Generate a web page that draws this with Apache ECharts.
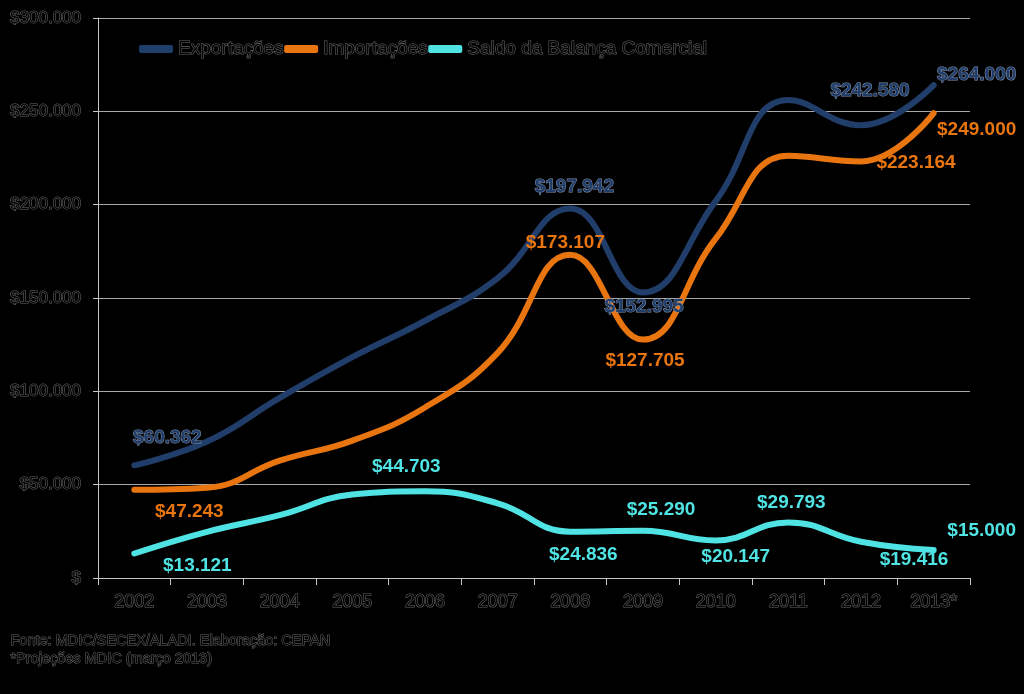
<!DOCTYPE html>
<html>
<head>
<meta charset="utf-8">
<script src="https://cdn.jsdelivr.net/npm/echarts@6/dist/echarts.min.js"></script>
<style>
html,body{margin:0;padding:0;background:#000;}
#chart{width:1024px;height:694px;}
</style>
</head>
<body>
<div id="chart"></div>
<script>
// ---- data ----
const years = ['2002','2003','2004','2005','2006','2007','2008','2009','2010','2011','2012','2013*'];
const exportacoes = [60362, 73084, 96475, 118308, 137807, 160649, 197942, 152995, 201915, 256040, 242580, 264000];
const importacoes = [47243, 48326, 62836, 73600, 91351, 120617, 173107, 127705, 181768, 226247, 223164, 249000];
const saldo = [13121, 24758, 33641, 44703, 46457, 40032, 24836, 25290, 20147, 29793, 19416, 15000];
const seriesNames = ['Exportações', 'Importações', 'Saldo da Balança Comercial'];
const yTicks = [0, 50000, 100000, 150000, 200000, 250000, 300000];
const footerLines = ['Fonte: MDIC/SECEX/ALADI. Elaboração: CEPAN', '*Projeções MDIC (março 2013)'];

// ---- label placement (style only: pixel offsets from each point) ----
const expLabelOffsets = {0:[33,-28], 6:[4,-22], 7:[1,14], 10:[9,-34], 11:[43,-10]};
const impLabelOffsets = {0:[55,22], 6:[-5,-12], 7:[2,21], 10:[55,1], 11:[43,17]};
const salLabelOffsets = {0:[63,12], 3:[54,-28], 6:[13,23], 7:[18,-21], 8:[20,16], 9:[3,-20], 10:[53,18], 11:[48,-19]};

const colors = ['#213E6B', '#E8750F', '#4FE3E3'];

function fmt(v){
  return '$' + String(v).replace(/\B(?=(\d{3})+(?!\d))/g, '.');
}
function build(values, offsets){
  return values.map((v, i) => {
    const o = offsets[i];
    if (!o) return {value: v, label: {show: false}};
    return {value: v, label: {show: true, offset: o}};
  });
}
const darkText = {color: '#030303', textBorderColor: '#666666', textBorderWidth: 1.1, fontFamily: 'Liberation Sans, Arial, sans-serif'};

function lineSeries(name, values, offsets, color, labelExtra){
  return {
    name: name,
    type: 'line',
    smooth: 0.45,
    symbol: 'circle',
    symbolSize: 2,
    showSymbol: true,
    showAllSymbol: true,
    itemStyle: {color: color},
    lineStyle: {color: color, width: 6, cap: 'round'},
    emphasis: {disabled: true},
    label: Object.assign({
      show: false,
      position: 'inside',
      formatter: p => fmt(p.value),
      color: color,
      fontSize: 19,
      fontWeight: 'bold',
      fontFamily: 'Liberation Sans, Arial, sans-serif'
    }, labelExtra || {}),
    data: build(values, offsets),
    z: 3
  };
}

const chart = echarts.init(document.getElementById('chart'), null, {renderer: 'canvas'});
chart.setOption({
  backgroundColor: '#000',
  animation: false,
  grid: {left: 98, right: 54, top: 18, bottom: 116, containLabel: false},
  legend: {
    data: seriesNames.map((n, i) => ({name: n, itemStyle: {color: colors[i]}})),
    left: 134, top: 34,
    icon: 'roundRect',
    itemWidth: 34, itemHeight: 8, itemGap: 0,
    textStyle: Object.assign({fontSize: 19, padding: [0,0,0,0]}, darkText)
  },
  xAxis: {
    type: 'category',
    data: years,
    boundaryGap: true,
    axisLine: {lineStyle: {color: '#c8c8c8', width: 1}},
    axisTick: {show: true, interval: 0, length: 7, lineStyle: {color: '#c8c8c8'}},
    axisLabel: Object.assign({interval: 0, fontSize: 18, margin: 15}, darkText)
  },
  yAxis: {
    type: 'value',
    min: yTicks[0], max: yTicks[yTicks.length-1], interval: 50000,
    axisLine: {show: true, lineStyle: {color: '#c8c8c8', width: 1}},
    axisTick: {show: true, length: 5, lineStyle: {color: '#c8c8c8'}},
    splitLine: {show: true, lineStyle: {color: '#a8a8a8', width: 1}},
    axisLabel: Object.assign({fontSize: 17, margin: 17, formatter: v => v === 0 ? '$' : fmt(v)}, darkText)
  },
  graphic: footerLines.map((t, i) => ({
    type: 'text',
    left: 10, top: 633 + i * 18,
    style: {text: t, fontSize: 14.5, fill: '#030303', stroke: '#666666', lineWidth: 1, fontFamily: 'Liberation Sans, Arial, sans-serif'}
  })),
  series: [
    lineSeries(seriesNames[0], exportacoes, expLabelOffsets, colors[0], {textBorderColor: '#8594ad', textBorderWidth: 1}),
    lineSeries(seriesNames[1], importacoes, impLabelOffsets, colors[1]),
    lineSeries(seriesNames[2], saldo, salLabelOffsets, colors[2])
  ]
});
</script>
</body>
</html>
